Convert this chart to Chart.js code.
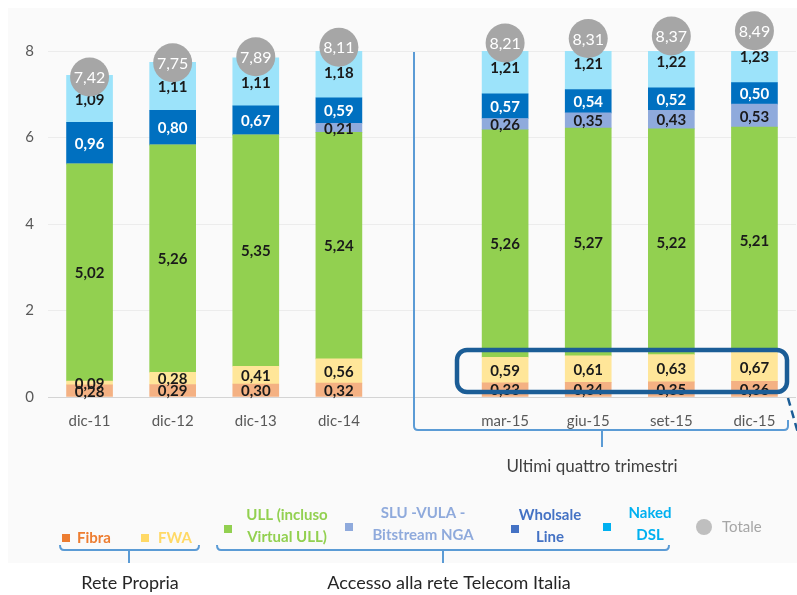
<!DOCTYPE html>
<html>
<head>
<meta charset="utf-8">
<script src="https://cdn.jsdelivr.net/npm/chart.js@4"></script>
<style>
  body { margin: 0; background: #fff; }
</style>
</head>
<body>
<canvas id="barChart" width="797" height="595"></canvas>
<script>
const CHART = document.getElementById("barChart");

// periodi (un buco tra dic-14 e mar-15)
const periods = ['dic-11', 'dic-12', 'dic-13', 'dic-14', 'mar-15', 'giu-15', 'set-15', 'dic-15'];
const fibra     = [0.28, 0.29, 0.30, 0.32, 0.33, 0.34, 0.35, 0.36];
const fwa       = [0.09, 0.28, 0.41, 0.56, 0.59, 0.61, 0.63, 0.67];
const ull       = [5.02, 5.26, 5.35, 5.24, 5.26, 5.27, 5.22, 5.21];
const sluVula   = [0, 0, 0, 0.21, 0.26, 0.35, 0.43, 0.53];
const wholesale = [0.96, 0.80, 0.67, 0.59, 0.57, 0.54, 0.52, 0.50];
const nakedDsl  = [1.09, 1.11, 1.11, 1.18, 1.21, 1.21, 1.22, 1.23];
const totale    = [7.42, 7.75, 7.89, 8.11, 8.21, 8.31, 8.37, 8.49];
const yTicks    = [0, 2, 4, 6, 8];

const FONT = "Lato, 'Liberation Sans', sans-serif";

// insert empty slot after the 4th period
function withGap(arr, blank) {
  return arr.slice(0, 4).concat([blank], arr.slice(4));
}
const labels = withGap(periods, '');

const series = [
  {label: 'Fibra', data: fibra, color: '#f4b183', text: '#1a1a1a'},
  {label: 'FWA', data: fwa, color: '#ffe699', text: '#1a1a1a'},
  {label: 'ULL (incluso Virtual ULL)', data: ull, color: '#92d050', text: '#1a1a1a'},
  {label: 'SLU -VULA - Bitstream NGA', data: sluVula, color: '#8faadc', text: '#1a1a1a'},
  {label: 'Wholsale Line', data: wholesale, color: '#0070c0', text: '#ffffff'},
  {label: 'Naked DSL', data: nakedDsl, color: '#9ce3fa', text: '#1a1a1a'}
];

const datasets = series.map(s => ({
  label: s.label,
  data: withGap(s.data, null),
  backgroundColor: s.color,
  borderWidth: 0,
  barThickness: 46,
  textColor: s.text
}));

const fmt = v => v.toFixed(2).replace('.', ',');

const overlay = {
  id: 'overlay',
  beforeDraw(chart) {
    const c = chart.ctx;
    c.save();
    c.fillStyle = '#ffffff';
    c.fillRect(0, 0, chart.width, chart.height);
    c.fillStyle = '#fafafa';
    c.fillRect(8, 8, chart.width - 8, 555);
    c.restore();
  },
  afterDatasetsDraw(chart) {
    const c = chart.ctx;
    c.save();
    c.textAlign = 'center';
    c.textBaseline = 'middle';
    c.font = "bold 15px " + FONT;
    chart.data.datasets.forEach((ds, i) => {
      const meta = chart.getDatasetMeta(i);
      meta.data.forEach((el, j) => {
        const v = ds.data[j];
        if (!v) return;
        c.fillStyle = ds.textColor;
        c.fillText(fmt(v), el.x, (el.y + el.base) / 2 + 1);
      });
    });
    // totale circles
    const meta0 = chart.getDatasetMeta(0);
    const tot = withGap(totale, null);
    tot.forEach((v, j) => {
      if (v == null) return;
      const x = meta0.data[j].x;
      const y = chart.scales.y.getPixelForValue(v) + 1;
      c.fillStyle = '#a6a6a6';
      c.beginPath();
      c.arc(x, y, 19.5, 0, Math.PI * 2);
      c.fill();
      c.fillStyle = '#ffffff';
      c.font = "16px " + FONT;
      c.fillText(fmt(v), x, y + 1);
    });
    c.restore();
  },
  afterDraw(chart) {
    const c = chart.ctx;
    c.save();
    // bracket round the last four quarters
    c.strokeStyle = '#5b9bd5';
    c.lineWidth = 2;
    c.beginPath();
    c.moveTo(414, 52);
    c.lineTo(414, 426);
    c.quadraticCurveTo(414, 430, 418, 430);
    c.lineTo(784, 430);
    c.quadraticCurveTo(788, 430, 788, 426);
    c.lineTo(788, 420);
    c.moveTo(602, 430);
    c.lineTo(602, 447);
    c.stroke();

    c.fillStyle = '#404040';
    c.font = "17px " + FONT;
    c.textAlign = 'center';
    c.textBaseline = 'middle';
    c.fillText('Ultimi quattro trimestri', 592, 467);

    // highlight box round FWA values
    c.strokeStyle = '#1b5d96';
    c.lineWidth = 4.5;
    c.beginPath();
    c.roundRect(457, 350, 330, 42, 10);
    c.stroke();
    c.lineWidth = 2.5;
    c.setLineDash([8, 5]);
    c.beginPath();
    c.moveTo(788, 398);
    c.lineTo(800, 440);
    c.stroke();
    c.setLineDash([]);

    // legend
    const sq = (x, y, col) => { c.fillStyle = col; c.fillRect(x - 4, y - 4, 8, 8); };
    c.font = "bold 15px " + FONT;
    sq(66, 538, '#ed7d31');
    c.fillStyle = '#ed7d31'; c.textAlign = 'left';
    c.fillText('Fibra', 77, 538);
    sq(145, 538, '#ffd966');
    c.fillStyle = '#ffd966';
    c.fillText('FWA', 158, 538);

    c.textAlign = 'center';
    sq(228, 529, '#92d050');
    c.fillStyle = '#92d050';
    c.fillText('ULL (incluso', 287, 515);
    c.fillText('Virtual ULL)', 287, 537);
    sq(349, 527, '#8faadc');
    c.fillStyle = '#8faadc';
    c.fillText('SLU -VULA -', 423, 513);
    c.fillText('Bitstream NGA', 423, 535);
    sq(515, 529, '#4472c4');
    c.fillStyle = '#4472c4';
    c.fillText('Wholsale', 550, 515);
    c.fillText('Line', 550, 537);
    sq(607, 527, '#00b0f0');
    c.fillStyle = '#00b0f0';
    c.fillText('Naked', 650, 513);
    c.fillText('DSL', 650, 535);
    c.fillStyle = '#bfbfbf';
    c.beginPath(); c.arc(704, 527, 8, 0, Math.PI * 2); c.fill();
    c.fillStyle = '#a6a6a6'; c.textAlign = 'left';
    c.font = "15px " + FONT;
    c.fillText('Totale', 722, 527);

    // legend group brackets
    c.strokeStyle = '#5b9bd5';
    c.lineWidth = 2;
    const brace = (x1, x2, xm) => {
      c.beginPath();
      c.moveTo(x1, 545);
      c.quadraticCurveTo(x1, 550, x1 + 4, 550);
      c.lineTo(x2 - 4, 550);
      c.quadraticCurveTo(x2, 550, x2, 545);
      c.moveTo(xm, 550);
      c.lineTo(xm, 563);
      c.stroke();
    };
    brace(60, 199, 129);
    brace(217, 669, 443);
    c.fillStyle = '#262626';
    c.textAlign = 'center';
    c.font = "18px " + FONT;
    c.fillText('Rete Propria', 130, 583);
    c.fillText('Accesso alla rete Telecom Italia', 449, 583);
    c.restore();
  }
};

let barChart = new Chart(CHART, {
  type: 'bar',
  data: {labels, datasets},
  options: {
    responsive: false,
    animation: false,
    layout: {padding: {top: 51, left: 8, right: 1, bottom: 0}},
    plugins: {legend: {display: false}, tooltip: {enabled: false}},
    scales: {
      x: {
        stacked: true,
        grid: {display: false, drawTicks: false},
        border: {display: false},
        ticks: {color: '#595959', font: {family: FONT, size: 15}, padding: 15},
        afterFit: s => { s.height = 198; }
      },
      y: {
        stacked: true,
        min: 0,
        max: 8,
        afterBuildTicks: s => { s.ticks = yTicks.map(v => ({value: v})); },
        ticks: {color: '#595959', font: {family: FONT, size: 15}, padding: 14},
        grid: {color: ctx => ctx.tick && ctx.tick.value === 0 ? '#d4d4d4' : '#ececec', drawTicks: false},
        border: {display: false},
        afterFit: s => { s.width = 40; }
      }
    }
  },
  plugins: [overlay]
});
</script>
</body>
</html>
